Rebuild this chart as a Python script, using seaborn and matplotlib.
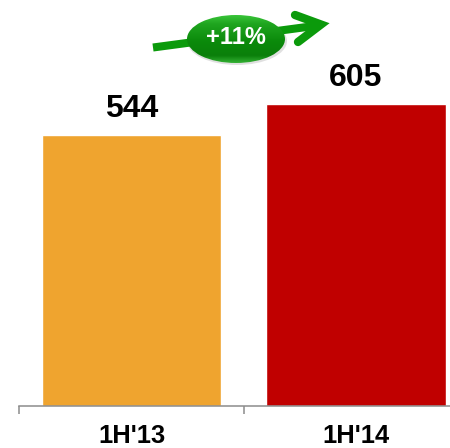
import numpy as np
import pandas as pd
import matplotlib
matplotlib.use('Agg')
import matplotlib.pyplot as plt
import seaborn as sns
from matplotlib.patches import Ellipse
from matplotlib.lines import Line2D

periods = ["1H'13", "1H'14"]
values = [544, 605]
bar_colors = ['#EFA42F', '#C00000']
growth_label = '+11%'

sns.set_theme(style='white')
plt.rcParams['font.family'] = ['Liberation Sans', 'DejaVu Sans']

W, H = 450, 448
fig = plt.figure(figsize=(W / 100, H / 100), dpi=100)
ax = fig.add_axes([19.5 / W, (H - 406) / H, 430.5 / W, 406 / H])

df = pd.DataFrame({'period': periods, 'value': values})
sns.barplot(data=df, x='period', y='value', hue='period', palette=bar_colors,
            width=0.8, legend=False, ax=ax, saturation=1)

ax.set_xlim(-0.5, 1.42)
ax.set_ylim(0, 406 / 0.4985)
ax.set_xlabel('')
ax.set_ylabel('')
ax.set_yticks([])
for s in ['top', 'left', 'right']:
    ax.spines[s].set_visible(False)
ax.spines['bottom'].set_color('#8c8c8c')
ax.spines['bottom'].set_linewidth(1.1)

# ticks sit between the categories
ax.set_xticks([-0.5, 0.5], minor=True)
ax.tick_params(axis='x', which='minor', bottom=True, length=5.8, width=1.1, color='#8c8c8c')
ax.tick_params(axis='x', which='major', bottom=False, pad=7, labelsize=18.4, labelcolor='black')
for t in ax.get_xticklabels():
    t.set_fontweight('bold')

for c in ax.containers:
    ax.bar_label(c, padding=8, fontsize=23, fontweight='bold', color='black')

# growth badge, in pixel coordinates
ov = fig.add_axes([0, 0, 1, 1], zorder=5)
ov.set_xlim(0, W)
ov.set_ylim(H, 0)
ov.axis('off')
ov.patch.set_alpha(0)

green = '#0B9A0B'
ov.add_line(Line2D([153, 318], [47.5, 25.5], color=green, lw=5.8, solid_capstyle='butt'))
ov.add_line(Line2D([295, 321, 298], [15, 24.5, 42], color=green, lw=6, solid_capstyle='round',
                   solid_joinstyle='miter'))

# ellipse with vertical gradient
cmap = matplotlib.colors.LinearSegmentedColormap.from_list(
    'badge', [(0, '#39C439'), (0.18, '#1FA51F'), (0.55, '#0B8A0B'), (0.85, '#0A7F0A'), (1, '#33B033')])
grad = np.linspace(0, 1, 64).reshape(-1, 1)
ov.add_patch(Ellipse((237, 41), 100, 48, color='#999999', alpha=0.3, lw=0))
im = ov.imshow(grad, cmap=cmap, extent=[187, 285, 63, 15], aspect='auto', zorder=3)
clip = Ellipse((236, 39), 98, 48, transform=ov.transData, fc='none', ec='none')
ov.add_patch(clip)
im.set_clip_path(clip)
ov.set_xlim(0, W)
ov.set_ylim(H, 0)
ov.text(236, 38, growth_label, color='white', fontsize=17, fontweight='bold',
        ha='center', va='center', zorder=4)

fig.savefig('out.png', dpi=100)
